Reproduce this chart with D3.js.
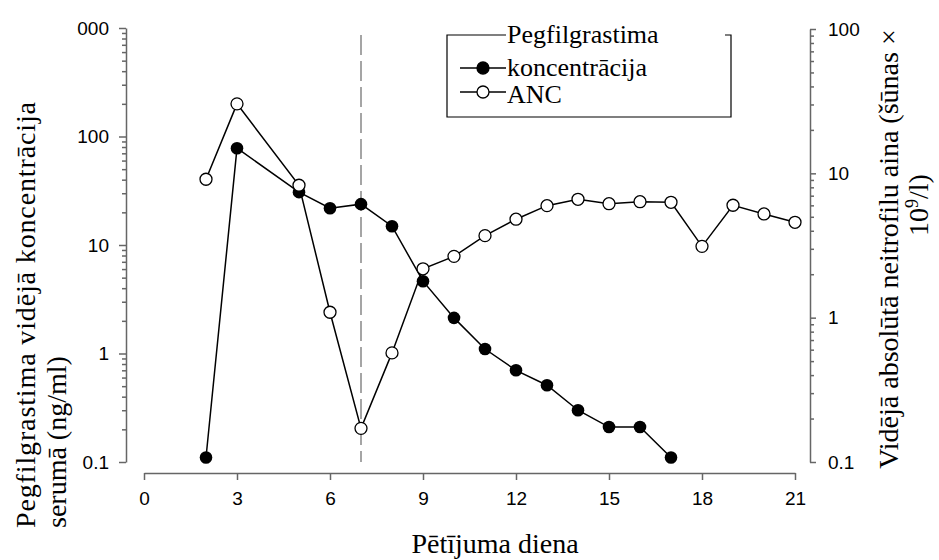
<!DOCTYPE html>
<html>
<head>
<meta charset="utf-8">
<script src="https://cdn.jsdelivr.net/npm/d3@7"></script>
<style>
  body { margin: 0; background: #fff; }
  .tick text { font-family: "Liberation Sans", Arial, sans-serif; font-size: 19px; fill: #000; }
  .axis path, .axis line { stroke: #666; stroke-width: 1.5; }
</style>
</head>
<body>
<svg id="chart" width="939" height="560"></svg>
<script>
// data
const concDays   = [2, 3, 5, 6, 7, 8, 9, 10, 11, 12, 13, 14, 15, 16, 17];
const concValues = [0.11, 78, 30.7, 21.8, 23.8, 14.9, 4.64, 2.13, 1.10, 0.70, 0.51, 0.30, 0.21, 0.21, 0.11];
const ancDays    = [2, 3, 5, 6, 7, 8, 9, 10, 11, 12, 13, 14, 15, 16, 17, 18, 19, 20, 21];
const ancValues  = [9.1, 30.3, 8.27, 1.09, 0.171, 0.57, 2.18, 2.66, 3.70, 4.81, 5.97, 6.61, 6.16, 6.36, 6.30, 3.12, 6.01, 5.23, 4.58];
const xTicks     = [0, 3, 6, 9, 12, 15, 18, 21];
const leftTicks  = [0.1, 1, 10, 100, 1000];
const rightTicks = [0.1, 1, 10, 100];
const doseDay    = 7;
const legendLabels = ["Pegfilgrastima", "koncentrācija", "ANC"];

const serif = "'Liberation Serif', 'Times New Roman', Times, Tinos, 'Nimbus Roman', 'Nimbus Roman No9 L', FreeSerif, 'Noto Serif', 'DejaVu Serif', serif";

const svg = d3.select("#chart");

const x  = d3.scaleLinear().domain([0, 21]).range([144, 795]);
const yL = d3.scaleLog().domain([0.1, 1000]).range([462, 28]);
const yR = d3.scaleLog().domain([0.1, 100]).range([462, 29]);

const fmt = d => d < 1 ? String(d) : d3.format("d")(d);
const minorsOf = (scale, majors) => scale.ticks().filter(t => !majors.some(m => Math.abs(m - t) < 1e-9));

// x axis
svg.append("g").attr("class", "axis")
    .attr("transform", "translate(0,473)")
    .call(d3.axisBottom(x).tickValues(xTicks).tickSize(7).tickSizeOuter(0).tickPadding(12));

// left axis
const gL = svg.append("g").attr("class", "axis").attr("transform", "translate(126,0)");
gL.call(d3.axisLeft(yL).tickValues(leftTicks).tickFormat(fmt).tickSize(7).tickSizeOuter(0).tickPadding(10));
svg.append("g").attr("class", "axis").attr("transform", "translate(126,0)")
    .call(d3.axisLeft(yL).tickValues(minorsOf(yL, leftTicks)).tickFormat("").tickSize(4).tickSizeOuter(0))
    .select(".domain").remove();

// the top label is cut off in the original
svg.append("clipPath").attr("id", "cutTop")
  .append("rect").attr("x", -49).attr("y", -30).attr("width", 100).attr("height", 60);
gL.selectAll(".tick").filter(d => d === 1000).select("text").attr("clip-path", "url(#cutTop)");

// right axis
svg.append("g").attr("class", "axis").attr("transform", "translate(810,0)")
    .call(d3.axisRight(yR).tickValues(rightTicks).tickFormat(fmt).tickSize(6).tickSizeOuter(0).tickPadding(12));
svg.append("g").attr("class", "axis").attr("transform", "translate(810,0)")
    .call(d3.axisRight(yR).tickValues(minorsOf(yR, rightTicks)).tickFormat("").tickSize(4).tickSizeOuter(0))
    .select(".domain").remove();

// dose marker
svg.append("line")
    .attr("x1", x(doseDay)).attr("x2", x(doseDay))
    .attr("y1", 35).attr("y2", 462)
    .attr("stroke", "#888").attr("stroke-width", 1.5)
    .attr("stroke-dasharray", "20,6");

const conc = concDays.map((d, i) => ({ day: d, v: concValues[i] }));
const anc  = ancDays.map((d, i) => ({ day: d, v: ancValues[i] }));

svg.append("path").datum(conc)
    .attr("fill", "none").attr("stroke", "#000").attr("stroke-width", 1.5)
    .attr("d", d3.line().x(d => x(d.day)).y(d => yL(d.v)));
svg.append("path").datum(anc)
    .attr("fill", "none").attr("stroke", "#000").attr("stroke-width", 1.5)
    .attr("d", d3.line().x(d => x(d.day)).y(d => yR(d.v)));

svg.selectAll(".conc").data(conc).enter().append("circle")
    .attr("class", "conc")
    .attr("cx", d => x(d.day)).attr("cy", d => yL(d.v)).attr("r", 6.3)
    .attr("fill", "#000");
svg.selectAll(".anc").data(anc).enter().append("circle")
    .attr("class", "anc")
    .attr("cx", d => x(d.day)).attr("cy", d => yR(d.v)).attr("r", 6)
    .attr("fill", "#fff").attr("stroke", "#000").attr("stroke-width", 1.3);

// axis titles
const title = (sel) => sel.attr("font-family", serif).attr("font-size", 28).attr("fill", "#000");

svg.append("text").call(title)
    .attr("x", 495).attr("y", 553).attr("text-anchor", "middle")
    .text("Pētījuma diena");

svg.append("text").call(title)
    .attr("transform", "translate(35,528) rotate(-90)")
    .attr("textLength", 426).attr("lengthAdjust", "spacing")
    .text("Pegfilgrastima vidējā koncentrācija");
svg.append("text").call(title)
    .attr("transform", "translate(66,528) rotate(-90)")
    .text("serumā (ng/ml)");

svg.append("text").call(title)
    .attr("transform", "translate(898,249) rotate(-90)").attr("text-anchor", "middle")
    .text("Vidējā absolūtā neitrofilu aina (šūnas ×");
const t2 = svg.append("text").call(title)
    .attr("transform", "translate(928,205) rotate(-90)").attr("text-anchor", "middle");
t2.append("tspan").text("10");
t2.append("tspan").attr("dy", -10).attr("font-size", 18).text("9");
t2.append("tspan").attr("dy", 10).text("/l)");

// legend
const lg = svg.append("g");
lg.append("path")
    .attr("d", "M506,35 H447 V117 H731 V35 H725")
    .attr("fill", "none").attr("stroke", "#000").attr("stroke-width", 1.2);
lg.append("text").attr("font-family", serif).attr("font-size", 26)
    .attr("x", 507).attr("y", 43).text(legendLabels[0]);
[[68, "#000", 76], [92, "#fff", 103]].forEach(([cy, fill, ty], i) => {
  lg.append("line").attr("x1", 460).attr("x2", 506).attr("y1", cy).attr("y2", cy)
      .attr("stroke", "#000").attr("stroke-width", 1.5);
  lg.append("circle").attr("cx", 483).attr("cy", cy).attr("r", 6)
      .attr("fill", fill).attr("stroke", "#000").attr("stroke-width", 1.3);
  lg.append("text").attr("font-family", serif).attr("font-size", 26)
      .attr("x", 507).attr("y", ty).text(legendLabels[i + 1]);
});
</script>
</body>
</html>
